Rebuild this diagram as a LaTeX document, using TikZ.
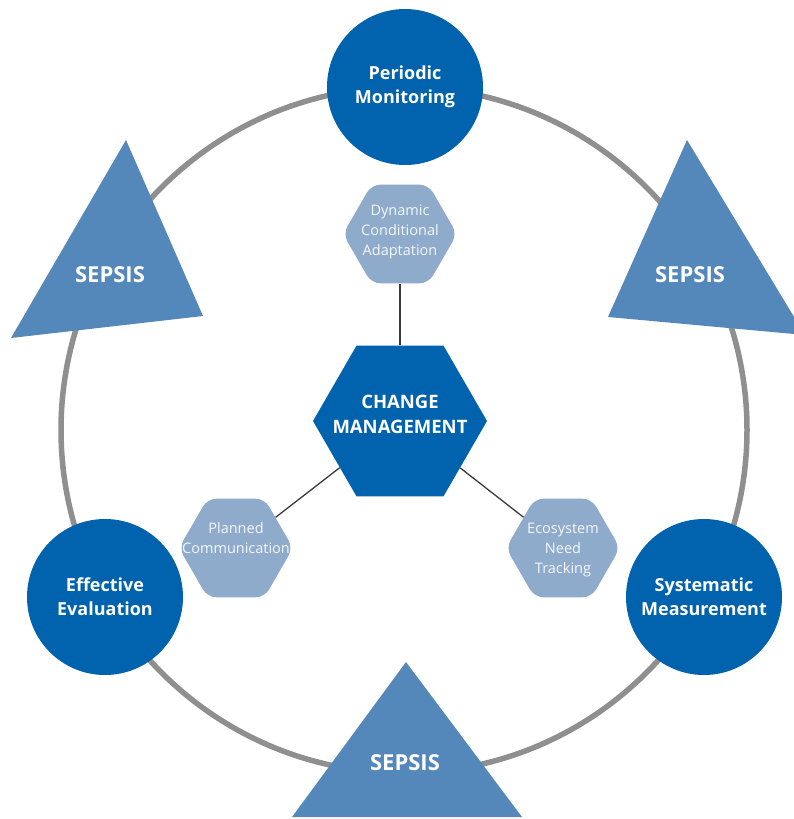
\documentclass[tikz,border=0pt]{standalone}
\usepackage{fontspec}
\setmainfont{Open Sans}
\usetikzlibrary{shapes.geometric}
\definecolor{mainblue}{RGB}{1,98,173}
\definecolor{triblue}{RGB}{85,136,186}
\definecolor{hexlight}{RGB}{143,171,203}
\definecolor{ringgray}{RGB}{143,143,143}
\definecolor{linkgray}{RGB}{58,58,58}
\definecolor{softwhite}{RGB}{244,247,250}
\begin{document}
\begin{tikzpicture}[x=1pt,y=-1pt,
  ring/.style={draw=ringgray,line width=5.5pt},
  hub/.style={circle,fill=mainblue,minimum size=156pt,inner sep=0pt,text=white,
    font=\bfseries\fontsize{18}{24}\selectfont,align=center},
  corehex/.style={regular polygon,regular polygon sides=6,minimum size=174pt,
    inner sep=0pt,fill=mainblue},
  subhex/.style={regular polygon,regular polygon sides=6,minimum size=114pt,
    inner sep=0pt,fill=hexlight,rounded corners=9pt},
  subtext/.style={text=softwhite,font=\fontsize{14.5}{20}\selectfont,align=center},
  coretext/.style={text=white,font=\bfseries\fontsize{18.5}{25}\selectfont,align=center},
  warn/.style={fill=triblue},
  warntext/.style={text=white,font=\bfseries\fontsize{22}{26}\selectfont},
  link/.style={draw=linkgray,line width=1.3pt}]
\useasboundingbox (0,0) rectangle (794,819);
\clip (0,0) rectangle (794,819);

% outer cycle
\draw[ring] (404,430) circle[radius=343pt];

% warning triangles on the cycle
\fill[warn] (126,140) -- (203,316) -- (11,338) -- cycle;
\fill[warn] (687,140) -- (805,335) -- (608,317) -- cycle;
\fill[warn] (406,662) -- (522,817) -- (292,817) -- cycle;
\node[warntext] (sepsisL) at (110,275) {SEPSIS};
\node[warntext] (sepsisR) at (690,275) {SEPSIS};
\node[warntext] (sepsisB) at (405,763) {SEPSIS};

% stages on the cycle
\node[hub] (monitor) at (405,87)  {Periodic\\Monitoring};
\node[hub] (measure) at (704,597) {Systematic\\Measurement};
\node[hub] (evaluate) at (105,597) {Effective\\Evaluation};

% central hexagon and its three satellites
\node[corehex] (core) at (400,421) {};
\node[subhex] (dyn) at (400,234) {};
\node[subhex] (plan) at (236,548) {};
\node[subhex] (eco) at (563,548) {};

\draw[link] (core) -- (dyn);
\draw[link] (core) -- (plan);
\draw[link] (core) -- (eco);

\node[coretext] (coreT) at (400,414) {CHANGE\\MANAGEMENT};
\node[subtext] (dynT) at (400,232) {Dynamic\\Conditional\\Adaptation};
\node[subtext] (planT) at (236,538) {Planned\\Communication};
\node[subtext] (ecoT) at (563,550) {Ecosystem\\Need\\Tracking};
\end{tikzpicture}
\end{document}
